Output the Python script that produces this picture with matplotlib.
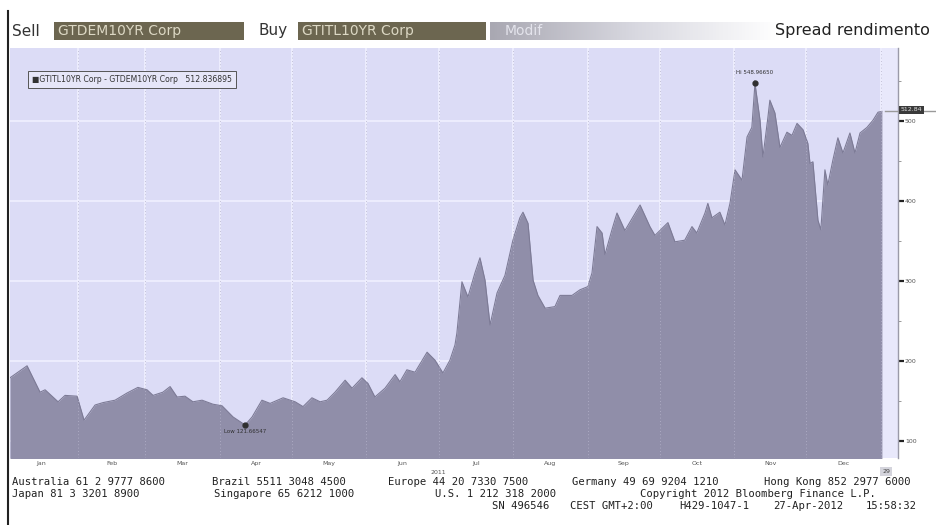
import numpy as np
import matplotlib
matplotlib.use("Agg")
import matplotlib.pyplot as plt
from matplotlib.patches import Rectangle
import matplotlib.transforms as mtransforms

# spread GTITL10YR - GTDEM10YR, 2011 (days since 1 Jan 2011, basis points)
days = [2.7, 9.8, 15.2, 17.3, 22.7, 25.6, 30.6, 33.5, 38.1, 41.4, 46.4, 51.4,
        55.9, 59.7, 62.2, 66.3, 69.3, 72.2, 75.5, 78.8, 82.6, 87.1, 90.9, 95.5,
        100.5, 103.4, 107.5, 110.9, 116.3, 121.3, 124.6, 128.3, 131.7, 134.6,
        137.9, 142.1, 145.0, 149.1, 151.6, 154.5, 158.7, 162.9, 164.9, 167.8,
        171.2, 176.2, 179.5, 182.8, 185.7, 187.8, 188.6, 190.7, 193.2, 196.1,
        198.2, 200.3, 202.4, 205.3, 208.6, 211.9, 214.8, 216.1, 218.2, 220.3,
        222.3, 225.3, 229.4, 231.5, 236.5, 239.8, 243.1, 244.8, 246.9, 249.0,
        250.2, 253.1, 255.2, 258.5, 264.8, 268.9, 271.0, 276.4, 279.3, 283.4,
        286.4, 288.4, 291.8, 293.0, 294.7, 298.0, 300.1, 302.2, 304.3, 307.2,
        309.3, 311.3, 312.6, 314.7, 315.9, 318.0, 318.8, 320.9, 323.0, 325.9,
        328.0, 330.1, 332.6, 334.6, 335.5, 336.7, 338.8, 340.0, 341.7, 342.9,
        345.0, 347.1, 349.2, 352.1, 354.2, 356.3, 359.2, 361.7, 363.8, 365.4]
spread = [179, 194, 161, 164, 149, 157, 156, 126, 145, 148, 151, 160,
          167, 164, 157, 161, 168, 155, 156, 149, 151, 146, 144, 130,
          120, 130, 151, 147, 154, 149, 143, 154, 149, 151,
          161, 176, 166, 179, 172, 155, 166, 183, 174, 189,
          186, 211, 201, 185, 201, 220, 235, 299, 280, 310,
          329, 301, 245, 285, 307, 351, 379, 386, 372, 301,
          282, 266, 268, 282, 282, 289, 293, 310, 368, 360,
          333, 364, 385, 363, 395, 368, 357, 373, 349, 351,
          368, 360, 385, 397, 379, 386, 370, 397, 439, 426,
          480, 492, 547, 501, 455, 505, 526, 510, 467, 486,
          482, 497, 489, 472, 447, 449, 376, 364, 439, 420,
          451, 479, 460, 485, 460, 485, 492, 501, 511, 512]

month_names = ["Jan", "Feb", "Mar", "Apr", "May", "Jun",
               "Jul", "Aug", "Sep", "Oct", "Nov", "Dec"]
month_start = [0, 31, 59, 90, 120, 151, 181, 212, 243, 273, 304, 334, 365]
y_ticks = [100, 200, 300, 400, 500]

legend_text = "GTITL10YR Corp - GTDEM10YR Corp   512.836895"
last_tag = "512.84"
hi_label = "Hi 548.96650"
lo_label = "Low 121.66547"

# footer pieces: (x pixel, line number, text)
footer = [
    (12, 0, "Australia 61 2 9777 8600"),
    (212, 0, "Brazil 5511 3048 4500"),
    (388, 0, "Europe 44 20 7330 7500"),
    (572, 0, "Germany 49 69 9204 1210"),
    (764, 0, "Hong Kong 852 2977 6000"),
    (12, 1, "Japan 81 3 3201 8900"),
    (214, 1, "Singapore 65 6212 1000"),
    (435, 1, "U.S. 1 212 318 2000"),
    (640, 1, "Copyright 2012 Bloomberg Finance L.P."),
    (492, 2, "SN 496546"),
    (570, 2, "CEST GMT+2:00"),
    (679, 2, "H429-1047-1"),
    (773, 2, "27-Apr-2012"),
    (866, 2, "15:58:32"),
]

BG = "#dcdcf6"
FILL = "#908ea9"

fig = plt.figure(figsize=(9.36, 5.25), dpi=100)
fig.patch.set_facecolor("white")


def px(x, y):
    return x / 936, 1 - y / 525


# ---- top bar ----
fig.add_artist(Rectangle(px(54, 40), 190 / 936, 18 / 525, transform=fig.transFigure,
                         facecolor="#6c6650", edgecolor="none"))
fig.add_artist(Rectangle(px(298, 40), 188 / 936, 18 / 525, transform=fig.transFigure,
                         facecolor="#6c6650", edgecolor="none"))
grad = np.linspace(0, 1, 200)[None, :]
gax = fig.add_axes([490 / 936, 1 - 40 / 525, 290 / 936, 18 / 525])
gax.imshow(grad, aspect="auto", cmap=matplotlib.colors.LinearSegmentedColormap.from_list(
    "g", ["#a9a8b2", "#d8d8e0", "#ffffff"]))
gax.axis("off")
fig.text(*px(12, 31), "Sell", fontsize=11, color="#333333", va="center")
fig.text(*px(258, 31), "Buy", fontsize=11, color="#333333", va="center")
fig.text(*px(58, 31), "GTDEM10YR Corp", fontsize=10, color="#dcd8c4", va="center")
fig.text(*px(302, 31), "GTITL10YR Corp", fontsize=10, color="#dcd8c4", va="center")
fig.text(*px(505, 31), "Modif", fontsize=10, color="#e4e4ec", va="center")
fig.text(*px(930, 31), "Spread rendimento", fontsize=11.5, color="#222222",
         va="center", ha="right")

# left frame line
fig.add_artist(plt.Line2D([8 / 936, 8 / 936], [0, 0.98], transform=fig.transFigure,
                          color="#222222", lw=1.5))

# ---- chart ----
ax = fig.add_axes([10 / 936, 1 - 458 / 525, 888 / 936, 410 / 525])
ax.set_facecolor(BG)
ax.set_xlim(2.7, 372.1)
ax.set_ylim(78.75, 591.25)

for d in month_start[1:]:
    ax.axvline(d, color="#f0f0ff", lw=1.2, zorder=0)
for v in y_ticks:
    ax.axhline(v, color="#f0f0ff", lw=1.2, zorder=0)

ax.axvspan(days[-1], 372.1, color="#e8e8fb", zorder=0.5, lw=0)
ax.fill_between(days, spread, 0, color=FILL, lw=0, zorder=1)
ax.plot(days, spread, color="#7d7b96", lw=0.8, zorder=2)

# faint dotted grid on top of the area
for d in month_start[1:]:
    ax.axvline(d, color="#b6b4cc", lw=0.6, ls=(0, (1, 3)), zorder=2.5)

# last value line and tag
trans = mtransforms.blended_transform_factory(ax.transAxes, ax.transData)
ax.plot([0.985, 1.045], [spread[-1], spread[-1]], transform=trans, color="#9a9a9a",
        lw=1, clip_on=False, zorder=3)
ax.text(1.003, spread[-1] + 2, last_tag, transform=trans, fontsize=4.5, color="#e0e0e0",
        va="center", ha="left", clip_on=False,
        bbox=dict(boxstyle="square,pad=0.25", facecolor="#3a3a3a", edgecolor="none"))

# hi / low markers
i_hi = int(np.argmax(spread))
i_lo = int(np.argmin(spread))
ax.plot(days[i_hi], spread[i_hi], "o", ms=3.5, color="#303030", zorder=4)
ax.annotate(hi_label, (days[i_hi], spread[i_hi]), xytext=(0, 6), textcoords="offset points",
            fontsize=4, color="#303030", ha="center", va="bottom",
            arrowprops=dict(arrowstyle="-", color="#303030", lw=0.6))
ax.plot(days[i_lo], spread[i_lo], "o", ms=3.5, color="#303030", zorder=4)
ax.annotate(lo_label, (days[i_lo], spread[i_lo]), xytext=(0, -3), textcoords="offset points",
            fontsize=4, color="#303030", ha="center", va="top")

# legend box
ax.text(0.025, 0.923, "\u25a0" + legend_text, transform=ax.transAxes, fontsize=5.6,
        color="#333333", va="center", ha="left",
        bbox=dict(boxstyle="square,pad=0.5", facecolor="#e6e6f8", edgecolor="#555555", lw=0.7))

# axes styling
for s in ax.spines.values():
    s.set_visible(False)
ax.spines["right"].set_visible(True)
ax.spines["right"].set_color("#9a9aa8")
ax.spines["right"].set_linewidth(1)

ax.yaxis.tick_right()
ax.set_yticks(y_ticks)
ax.set_yticklabels([str(v) for v in y_ticks], fontsize=4.5, color="#555555")
ax.set_yticks([v + 50 for v in y_ticks], minor=True)
ax.tick_params(axis="y", which="major", length=4, width=1.6, color="#222222", pad=1)
ax.tick_params(axis="y", which="minor", length=2, width=0.6, color="#888888")

mid = [(a + b) / 2 for a, b in zip(month_start[:-1], month_start[1:])]
ax.set_xticks(month_start[1:])
ax.set_xticklabels([])
ax.set_xticks(mid, minor=True)
ax.set_xticklabels(month_names, minor=True, fontsize=4.5, color="#555555")
ax.tick_params(axis="x", which="both", length=0, pad=2)

ax.annotate("2011", (month_start[6], 0), xycoords=("data", "axes fraction"),
            xytext=(0, -8.5), textcoords="offset points", fontsize=4.5, color="#555555",
            ha="center", va="top", annotation_clip=False)
ax.annotate("29", (days[-1], 0), xycoords=("data", "axes fraction"),
            xytext=(3, -8), textcoords="offset points", fontsize=4.5, color="#444444",
            ha="center", va="top", annotation_clip=False,
            bbox=dict(boxstyle="square,pad=0.3", facecolor="#d4d4dc", edgecolor="none"))

# footer
for x0, row, line in footer:
    fig.text(x0 / 936, 1 - (482 + row * 12) / 525, line, fontsize=7.6,
             family="DejaVu Sans Mono", color="#202020", va="center", ha="left")

fig.savefig("out.png", dpi=100, facecolor="white")
